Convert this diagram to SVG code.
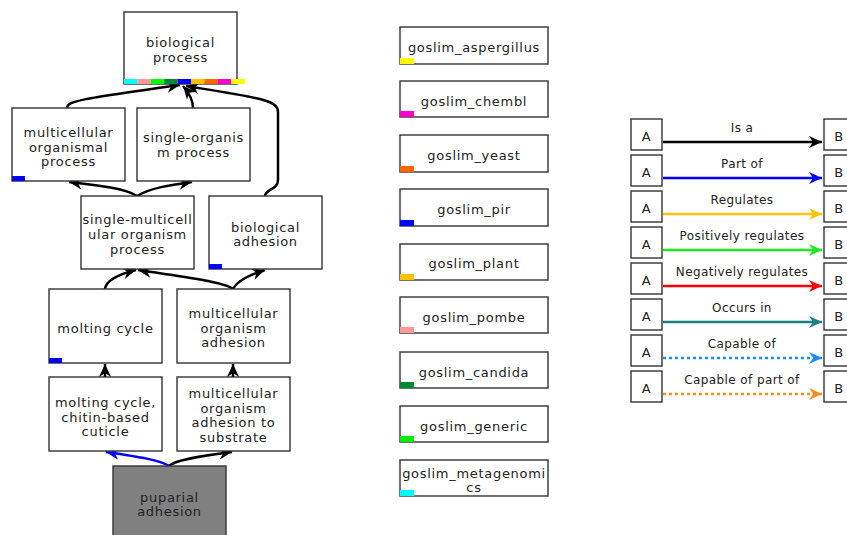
<svg xmlns="http://www.w3.org/2000/svg" width="847" height="535" viewBox="0 0 847 535">
<style>
.box{fill:#fff;stroke:#333;stroke-width:1.4}
.t{font-family:"DejaVu Sans",sans-serif;font-size:13px;letter-spacing:0.7px;fill:#222;text-anchor:middle}
.lt{font-family:"DejaVu Sans",sans-serif;font-size:12px;letter-spacing:0.4px;fill:#222;text-anchor:middle}
.e{fill:none;stroke:#000;stroke-width:2.5}
.l{fill:none;stroke-width:2.6}
</style>
<defs>
<marker id="ak" markerUnits="userSpaceOnUse" viewBox="-14 -7 15 14" refX="0" refY="0" markerWidth="15" markerHeight="14" orient="auto"><path d="M0,0 L-13,-6 L-9,0 L-13,6 Z" fill="#000"/></marker>
<marker id="ab" markerUnits="userSpaceOnUse" viewBox="-14 -7 15 14" refX="0" refY="0" markerWidth="15" markerHeight="14" orient="auto"><path d="M0,0 L-13,-6 L-9,0 L-13,6 Z" fill="#00f"/></marker>
<marker id="ag" markerUnits="userSpaceOnUse" viewBox="-14 -7 15 14" refX="0" refY="0" markerWidth="15" markerHeight="14" orient="auto"><path d="M0,0 L-13,-6 L-9,0 L-13,6 Z" fill="#ffc20e"/></marker>
<marker id="ap" markerUnits="userSpaceOnUse" viewBox="-14 -7 15 14" refX="0" refY="0" markerWidth="15" markerHeight="14" orient="auto"><path d="M0,0 L-13,-6 L-9,0 L-13,6 Z" fill="#1ee81e"/></marker>
<marker id="ar" markerUnits="userSpaceOnUse" viewBox="-14 -7 15 14" refX="0" refY="0" markerWidth="15" markerHeight="14" orient="auto"><path d="M0,0 L-13,-6 L-9,0 L-13,6 Z" fill="#f00"/></marker>
<marker id="at" markerUnits="userSpaceOnUse" viewBox="-14 -7 15 14" refX="0" refY="0" markerWidth="15" markerHeight="14" orient="auto"><path d="M0,0 L-13,-6 L-9,0 L-13,6 Z" fill="#1a8080"/></marker>
<marker id="ac" markerUnits="userSpaceOnUse" viewBox="-14 -7 15 14" refX="0" refY="0" markerWidth="15" markerHeight="14" orient="auto"><path d="M0,0 L-13,-6 L-9,0 L-13,6 Z" fill="#1a8cff"/></marker>
<marker id="ao" markerUnits="userSpaceOnUse" viewBox="-14 -7 15 14" refX="0" refY="0" markerWidth="15" markerHeight="14" orient="auto"><path d="M0,0 L-13,-6 L-9,0 L-13,6 Z" fill="#ff8c1a"/></marker>
</defs>
<rect width="847" height="535" fill="#fff"/>

<g id="connectors">
<path class="e" style="stroke:#00f" marker-end="url(#ab)" d="M169,466 C160,460 140,457 106,452"/>
<path class="e" marker-end="url(#ak)" d="M169,466 C175,460 200,456 232,452"/>
<path class="e" marker-end="url(#ak)" d="M105,377 L105,364"/>
<path class="e" marker-end="url(#ak)" d="M233,377 L233,364"/>
<path class="e" marker-end="url(#ak)" d="M105,289 C106,280 120,274 136,270"/>
<path class="e" marker-end="url(#ak)" d="M233,289 C225,282 180,276 138,270"/>
<path class="e" marker-end="url(#ak)" d="M233,289 C238,280 250,275 265,270"/>
<path class="e" marker-end="url(#ak)" d="M137,196 C125,188 95,185 69,182"/>
<path class="e" marker-end="url(#ak)" d="M137,196 C150,188 170,185 192,182"/>
<path class="e" marker-end="url(#ak)" d="M67,108 C67,101 80,99 180,85"/>
<path class="e" marker-end="url(#ak)" d="M193,108 C193,100 190,94 183,86"/>
<path class="e" marker-end="url(#ak)" d="M265,196 C265,189 278,190 278,180 L278,112 C278,100 260,98 186,86"/>
</g>

<g id="n_bp">
<rect class="box" x="124" y="12" width="113" height="72"/>
<rect x="124" y="79" width="13.4" height="5" fill="#00ffff"/>
<rect x="137.4" y="79" width="13.4" height="5" fill="#ff9999"/>
<rect x="150.8" y="79" width="13.4" height="5" fill="#00ff00"/>
<rect x="164.2" y="79" width="13.4" height="5" fill="#008833"/>
<rect x="177.6" y="79" width="13.4" height="5" fill="#0000ff"/>
<rect x="191" y="79" width="13.4" height="5" fill="#ffc000"/>
<rect x="204.4" y="79" width="13.4" height="5" fill="#ff6600"/>
<rect x="217.8" y="79" width="13.4" height="5" fill="#ff00cc"/>
<rect x="231.2" y="79" width="13.8" height="5" fill="#ffff00"/>
<text class="t" x="180.5" y="47">biological</text>
<text class="t" x="180.5" y="62">process</text>
</g>

<g id="n_mcop">
<rect class="box" x="12" y="108" width="113" height="73"/>
<rect x="12" y="176" width="13" height="5" fill="#0000ff"/>
<text class="t" x="68.5" y="137">multicellular</text>
<text class="t" x="68.5" y="151.5">organismal</text>
<text class="t" x="68.5" y="166">process</text>
</g>

<g id="n_sop">
<rect class="box" x="137" y="108" width="113" height="73"/>
<text class="t" x="193.5" y="142">single-organis</text>
<text class="t" x="193.5" y="157">m process</text>
</g>

<g id="n_smop">
<rect class="box" x="81" y="196" width="113" height="73"/>
<text class="t" x="137.5" y="224">single-multicell</text>
<text class="t" x="137.5" y="239">ular organism</text>
<text class="t" x="137.5" y="253.5">process</text>
</g>

<g id="n_bad">
<rect class="box" x="209" y="196" width="113" height="73"/>
<rect x="209" y="264" width="13" height="5" fill="#0000ff"/>
<text class="t" x="265.5" y="232">biological</text>
<text class="t" x="265.5" y="246">adhesion</text>
</g>

<g id="n_mc">
<rect class="box" x="49" y="289" width="113" height="74"/>
<rect x="49" y="358" width="13" height="5" fill="#0000ff"/>
<text class="t" x="105.5" y="333">molting cycle</text>
</g>

<g id="n_mcad">
<rect class="box" x="177" y="289" width="113" height="74"/>
<text class="t" x="233.5" y="318">multicellular</text>
<text class="t" x="233.5" y="333">organism</text>
<text class="t" x="233.5" y="347">adhesion</text>
</g>

<g id="n_chitin">
<rect class="box" x="49" y="377" width="113" height="74"/>
<text class="t" x="105.5" y="407">molting cycle,</text>
<text class="t" x="105.5" y="421.5">chitin-based</text>
<text class="t" x="105.5" y="436">cuticle</text>
</g>

<g id="n_sub">
<rect class="box" x="177" y="377" width="113" height="74"/>
<text class="t" x="233.5" y="398">multicellular</text>
<text class="t" x="233.5" y="412.5">organism</text>
<text class="t" x="233.5" y="427">adhesion to</text>
<text class="t" x="233.5" y="442">substrate</text>
</g>

<g id="n_pup">
<rect x="113" y="466" width="113" height="75" fill="#808080" stroke="#333" stroke-width="1.4"/>
<text class="t" x="169.5" y="502">puparial</text>
<text class="t" x="169.5" y="516">adhesion</text>
</g>

<g id="slims">
<g id="s_asp"><rect class="box" x="400" y="27" width="148" height="37"/><rect x="400" y="58" width="14" height="6" fill="#ffff00"/><text class="t" x="474" y="52">goslim_aspergillus</text></g>
<g id="s_chembl"><rect class="box" x="400" y="81" width="148" height="36"/><rect x="400" y="111" width="14" height="6" fill="#ff00cc"/><text class="t" x="474" y="106">goslim_chembl</text></g>
<g id="s_yeast"><rect class="box" x="400" y="135" width="148" height="37"/><rect x="400" y="166" width="14" height="6" fill="#ff6600"/><text class="t" x="474" y="160">goslim_yeast</text></g>
<g id="s_pir"><rect class="box" x="400" y="189" width="148" height="37"/><rect x="400" y="220" width="14" height="6" fill="#0000ff"/><text class="t" x="474" y="214">goslim_pir</text></g>
<g id="s_plant"><rect class="box" x="400" y="244" width="148" height="36"/><rect x="400" y="274" width="14" height="6" fill="#ffc000"/><text class="t" x="474" y="268">goslim_plant</text></g>
<g id="s_pombe"><rect class="box" x="400" y="297" width="148" height="36"/><rect x="400" y="327" width="14" height="6" fill="#ff9999"/><text class="t" x="474" y="322">goslim_pombe</text></g>
<g id="s_candida"><rect class="box" x="400" y="352" width="148" height="36"/><rect x="400" y="382" width="14" height="6" fill="#008833"/><text class="t" x="474" y="377">goslim_candida</text></g>
<g id="s_generic"><rect class="box" x="400" y="406" width="148" height="36"/><rect x="400" y="436" width="14" height="6" fill="#00ee00"/><text class="t" x="474" y="431">goslim_generic</text></g>
<g id="s_meta"><rect class="box" x="400" y="460" width="148" height="36"/><rect x="400" y="490" width="14" height="6" fill="#00ffff"/><text class="t" x="474" y="478">goslim_metagenomi</text><text class="t" x="474" y="492">cs</text></g>
</g>

<g id="legend">
<g><rect class="box" x="631" y="119" width="31" height="31"/><text class="t" x="646.5" y="141">A</text><rect class="box" x="824" y="119" width="31" height="31"/><text class="t" x="839" y="141">B</text><path class="l" stroke="#000" marker-end="url(#ak)" d="M663,142 L822,142"/><text class="lt" x="742" y="132">Is a</text></g>
<g><rect class="box" x="631" y="155" width="31" height="31"/><text class="t" x="646.5" y="177">A</text><rect class="box" x="824" y="155" width="31" height="31"/><text class="t" x="839" y="177">B</text><path class="l" stroke="#00f" marker-end="url(#ab)" d="M663,178 L822,178"/><text class="lt" x="742" y="168">Part of</text></g>
<g><rect class="box" x="631" y="191" width="31" height="31"/><text class="t" x="646.5" y="213">A</text><rect class="box" x="824" y="191" width="31" height="31"/><text class="t" x="839" y="213">B</text><path class="l" stroke="#ffc20e" marker-end="url(#ag)" d="M663,214 L822,214"/><text class="lt" x="742" y="204">Regulates</text></g>
<g><rect class="box" x="631" y="227" width="31" height="31"/><text class="t" x="646.5" y="249">A</text><rect class="box" x="824" y="227" width="31" height="31"/><text class="t" x="839" y="249">B</text><path class="l" stroke="#1ee81e" marker-end="url(#ap)" d="M663,250 L822,250"/><text class="lt" x="742" y="240">Positively regulates</text></g>
<g><rect class="box" x="631" y="263" width="31" height="31"/><text class="t" x="646.5" y="285">A</text><rect class="box" x="824" y="263" width="31" height="31"/><text class="t" x="839" y="285">B</text><path class="l" stroke="#f00" marker-end="url(#ar)" d="M663,286 L822,286"/><text class="lt" x="742" y="276">Negatively regulates</text></g>
<g><rect class="box" x="631" y="299" width="31" height="31"/><text class="t" x="646.5" y="321">A</text><rect class="box" x="824" y="299" width="31" height="31"/><text class="t" x="839" y="321">B</text><path class="l" stroke="#1a8080" marker-end="url(#at)" d="M663,322 L822,322"/><text class="lt" x="742" y="312">Occurs in</text></g>
<g><rect class="box" x="631" y="335" width="31" height="31"/><text class="t" x="646.5" y="357">A</text><rect class="box" x="824" y="335" width="31" height="31"/><text class="t" x="839" y="357">B</text><path class="l" stroke="#1a8cff" stroke-dasharray="3,3" marker-end="url(#ac)" d="M663,358 L822,358"/><text class="lt" x="742" y="348">Capable of</text></g>
<g><rect class="box" x="631" y="371" width="31" height="31"/><text class="t" x="646.5" y="393">A</text><rect class="box" x="824" y="371" width="31" height="31"/><text class="t" x="839" y="393">B</text><path class="l" stroke="#ff8c1a" stroke-dasharray="3,3" marker-end="url(#ao)" d="M663,394 L822,394"/><text class="lt" x="742" y="384">Capable of part of</text></g>
</g>
</svg>
